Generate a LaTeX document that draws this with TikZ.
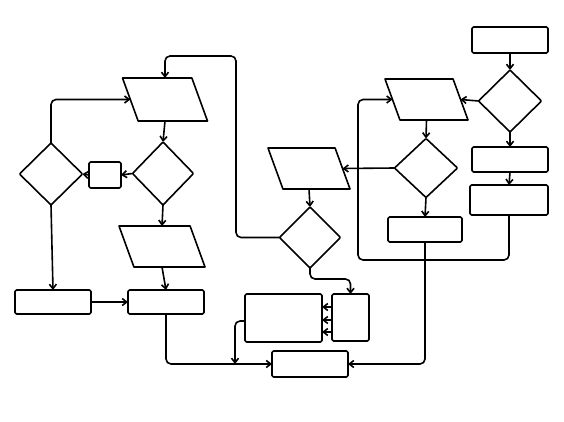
\documentclass[tikz,border=0pt]{standalone}
\usetikzlibrary{shapes.geometric,arrows.meta}
\begin{document}
\begin{tikzpicture}[x=1pt,y=-1pt,
  line width=1.6pt, line join=round, line cap=round,
  base/.style={draw=black, line width=1.6pt, inner sep=0pt, outer sep=0pt},
  rectbox/.style={base, rectangle, rounded corners=1.5pt},
  decision/.style={base, diamond, aspect=1, rounded corners=1pt},
  iobox/.style={base, trapezium, trapezium left angle=110, trapezium right angle=70, trapezium stretches body},
  arr/.style={-{Straight Barb[length=4.5pt,width=7pt]}},
  conn/.style={rounded corners=5pt}]
\useasboundingbox (0,0) rectangle (564,422);
\fill[white] (0,0) rectangle (564,422);
% right part
\node[rectbox, minimum width=76pt, minimum height=26pt] (r1) at (510,40) {};
\node[decision, minimum width=63pt, minimum height=62pt] (d2) at (510,101) {};
\node[rectbox, minimum width=76pt, minimum height=25pt] (r3) at (510,159.5) {};
\node[rectbox, minimum width=78pt, minimum height=30pt] (r4) at (509,200) {};
\node[iobox, minimum width=83pt] (p5) at (426.5,99.5) {\rule{0pt}{41pt}};
\node[decision, minimum width=63pt, minimum height=59pt] (d6) at (426,168) {};
\node[rectbox, minimum width=74pt, minimum height=25pt] (r7) at (425,229.5) {};
% middle part
\node[iobox, minimum width=82pt] (p13) at (309,168.5) {\rule{0pt}{41pt}};
\node[decision, minimum width=61pt, minimum height=61pt] (d14) at (310,237.5) {};
\node[rectbox, minimum width=77pt, minimum height=48pt] (rl) at (283.5,318) {};
\node[rectbox, minimum width=37pt, minimum height=47pt] (rs) at (350.5,317.5) {};
\node[rectbox, minimum width=76pt, minimum height=26pt] (rb) at (310,364) {};
% left part
\node[iobox, minimum width=85pt] (p20) at (165,99.5) {\rule{0pt}{43pt}};
\node[decision, minimum width=61pt, minimum height=63pt] (d21) at (163,173.5) {};
\node[rectbox, minimum width=32pt, minimum height=26pt] (sq) at (105,175) {};
\node[decision, minimum width=63pt, minimum height=62pt] (dl) at (51,174) {};
\node[iobox, minimum width=86pt] (p27) at (162,246.5) {\rule{0pt}{41pt}};
\node[rectbox, minimum width=76pt, minimum height=24pt] (rcl) at (166,302) {};
\node[rectbox, minimum width=76pt, minimum height=24pt] (rlb) at (53,302) {};
% connectors right
\draw[arr] (r1.south) -- (d2.north);
\draw[arr] (d2.west) -- (p5.east);
\draw[arr] (d2.south) -- (r3.north);
\draw[arr] (r3.south) -- (r4.north);
\draw[arr,conn] (r4.south) |- (358,260) |- (p5.west);
\draw[arr] (p5.south) -- (d6.north);
\draw[arr] (d6.west) -- (p13.east);
\draw[arr] (d6.south) -- (r7.north);
\draw[arr,conn] (r7.south) |- (rb.east);
% connectors middle
\draw[arr] (p13.south) -- (d14.north);
\draw[arr,conn] (d14.west) -| (236,56) -| (p20.north);
\draw[arr,conn] (d14.south) |- (rs.north |- 0,279) -- (rs.north);
\draw[arr] (rs.west |- 0,307) -- (rl.east |- 0,307);
\draw[arr] (rs.west |- 0,320) -- (rl.east |- 0,320);
\draw[arr] (rs.west |- 0,332) -- (rl.east |- 0,332);
\draw[arr,conn] (rl.west |- 0,321) -| (235,0 |- rb.west);
% connectors left
\draw[arr,conn] (dl.north) |- (p20.west);
\draw[arr] (p20.south) -- (d21.north);
\draw[arr] (d21.west) -- (sq.east);
\draw[arr] (sq.west) -- (dl.east);
\draw[arr] (dl.south) -- (rlb.north);
\draw[arr] (d21.south) -- (p27.north);
\draw[arr] (p27.south) -- (rcl.north);
\draw[arr] (rlb.east) -- (rcl.west);
\draw[arr,conn] (rcl.south) |- (rb.west);
\end{tikzpicture}
\end{document}
